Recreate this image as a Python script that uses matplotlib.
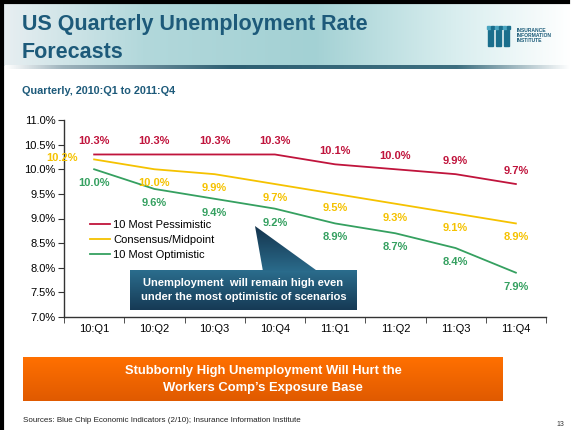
import numpy as np
import matplotlib
matplotlib.use("Agg")
import matplotlib.pyplot as plt
from matplotlib.colors import LinearSegmentedColormap
from matplotlib.patches import Rectangle, Polygon

plt.rcParams['font.family'] = ['Liberation Sans', 'DejaVu Sans']

# ---- data ----
quarters = ["10:Q1", "10:Q2", "10:Q3", "10:Q4", "11:Q1", "11:Q2", "11:Q3", "11:Q4"]
pessimistic = [10.3, 10.3, 10.3, 10.3, 10.1, 10.0, 9.9, 9.7]
consensus = [10.2, 10.0, 9.9, 9.7, 9.5, 9.3, 9.1, 8.9]
optimistic = [10.0, 9.6, 9.4, 9.2, 8.9, 8.7, 8.4, 7.9]
series_names = ["10 Most Pessimistic", "Consensus/Midpoint", "10 Most Optimistic"]
y_ticks = [7.0, 7.5, 8.0, 8.5, 9.0, 9.5, 10.0, 10.5, 11.0]

RED = "#c0143c"
GOLD = "#f5c200"
GREEN = "#35a060"
TITLE = "#1d5a7a"

W, H = 571, 430
fig = plt.figure(figsize=(W / 100, H / 100), dpi=100)
grad = np.linspace(0, 1, 256).reshape(1, -1)
vgrad = np.linspace(0, 1, 64).reshape(-1, 1)


def pixel_axes(z):
    a = fig.add_axes([0, 0, 1, 1])
    a.axis("off")
    a.set_zorder(z)
    a.patch.set_alpha(0)
    return a


def fix_limits(a):
    a.set_xlim(0, W)
    a.set_ylim(H, 0)


# ---- slide decoration, in pixel coordinates ----
bg = pixel_axes(0)

hdr_cmap = LinearSegmentedColormap.from_list(
    "hdr", [(0.0, "#e9eff2"), (0.25, "#b2d8db"), (0.55, "#a3d1d4"),
            (0.8, "#d9eeef"), (1.0, "#ffffff")])
bg.imshow(grad, cmap=hdr_cmap, aspect="auto", extent=[0, W, 66, 0], zorder=0)

# shadow rule under the header
shadow_cmap = LinearSegmentedColormap.from_list(
    "sh", [(0.0, "#ffffff"), (0.1, "#9fb4bd"), (0.4, "#2d5f72"),
           (0.8, "#3d6f80"), (1.0, "#ffffff")])
bg.imshow(grad, cmap=shadow_cmap, aspect="auto", extent=[5, W, 69, 65], zorder=1)

# frame edges
bg.plot([1.5, 1.5], [0, H], color="black", lw=3, zorder=5)
bg.plot([0, 568], [1.5, 1.5], color="black", lw=3, zorder=5)

bg.text(22, 30, "US Quarterly Unemployment Rate", fontsize=15.5, fontweight="bold",
        color=TITLE, va="baseline", ha="left")
bg.text(22, 58, "Forecasts", fontsize=15.5, fontweight="bold",
        color=TITLE, va="baseline", ha="left")
bg.text(22, 91, "Quarterly, 2010:Q1 to 2011:Q4", fontsize=7.8, fontweight="bold",
        color=TITLE, va="center", ha="left")

# logo
for x0 in (488, 496, 504):
    bg.add_patch(Rectangle((x0, 30), 5, 16, color="#1a6e8c", zorder=3))
    bg.add_patch(Rectangle((x0 - 1, 26), 3, 3, color="#4aa5c0", zorder=3))
    bg.add_patch(Rectangle((x0 + 3, 26), 3, 3, color="#1a6e8c", zorder=3))
for i, word in enumerate(["INSURANCE", "INFORMATION", "INSTITUTE"]):
    bg.text(517, 30 + i * 5.5, word, fontsize=3.6, fontweight="bold",
            color="#1a5a78", va="center", ha="left")

# orange banner
org_cmap = LinearSegmentedColormap.from_list("org", ["#ff7000", "#e05a00"])
bg.imshow(vgrad, cmap=org_cmap, aspect="auto", extent=[23, 503, 401, 357], zorder=2)
bg.text(263, 371, "Stubbornly High Unemployment Will Hurt the", fontsize=9.4,
        fontweight="bold", color="white", ha="center", va="center", zorder=3)
bg.text(263, 388, "Workers Comp\u2019s Exposure Base", fontsize=9.4,
        fontweight="bold", color="white", ha="center", va="center", zorder=3)

bg.text(23, 421, "Sources: Blue Chip Economic Indicators (2/10); Insurance Information Institute",
        fontsize=5.8, color="#222222", ha="left", va="center")
bg.text(556, 424, "13", fontsize=5, color="#333333", ha="left", va="center")
fix_limits(bg)

# ---- chart ----
ax = fig.add_axes([64 / W, 1 - 317 / H, (546 - 64) / W, (317 - 120) / H])
ax.set_zorder(1)
ax.patch.set_alpha(0)
x = np.arange(len(quarters))
ax.plot(x, pessimistic, color=RED, lw=1.3, label=series_names[0], zorder=3)
ax.plot(x, consensus, color=GOLD, lw=1.3, label=series_names[1], zorder=3)
ax.plot(x, optimistic, color=GREEN, lw=1.3, label=series_names[2], zorder=3)

ax.set_xlim(-0.5, len(quarters) - 0.5)
ax.set_ylim(7.0, 11.0)
ax.set_yticks(y_ticks)
ax.set_yticklabels([f"{v:.1f}%" for v in y_ticks], fontsize=8)
ax.set_xticks(x)
ax.set_xticklabels(quarters, fontsize=8)
ax.tick_params(axis="x", length=0, pad=5)
ax.set_xticks(np.arange(-0.5, len(quarters)), minor=True)
ax.tick_params(axis="x", which="minor", length=4, direction="out", color="#333333")
ax.tick_params(axis="y", length=4, direction="out", color="#333333", pad=2)
for s in ("top", "right"):
    ax.spines[s].set_visible(False)
for s in ("left", "bottom"):
    ax.spines[s].set_color("#333333")
    ax.spines[s].set_linewidth(1)

lab_kw = dict(fontsize=8, fontweight="bold", ha="center", va="center", zorder=4)
for i, v in enumerate(pessimistic):
    ax.annotate(f"{v:.1f}%", (i, v), xytext=(0, 13), textcoords="offset pixels",
                color=RED, **lab_kw)
for i, v in enumerate(consensus):
    off = (-32, 1) if i == 0 else (0, -14)
    ax.annotate(f"{v:.1f}%", (i, v), xytext=off, textcoords="offset pixels",
                color=GOLD, **lab_kw)
for i, v in enumerate(optimistic):
    ax.annotate(f"{v:.1f}%", (i, v), xytext=(0, -14), textcoords="offset pixels",
                color=GREEN, **lab_kw)

ax.legend(loc="upper left", bbox_to_anchor=(0.045, 0.515), frameon=False,
          fontsize=8, handlelength=1.8, handletextpad=0.25, labelspacing=0.45,
          borderaxespad=0)

# ---- callout box with pointer, drawn above the chart ----
top = pixel_axes(2)
box_cmap = LinearSegmentedColormap.from_list("box", ["#2b6d8d", "#163a55"])
top.imshow(vgrad, cmap=box_cmap, aspect="auto", extent=[130, 357, 310, 270], zorder=1)
tri_cmap = LinearSegmentedColormap.from_list("tri", ["#14344d", "#2a6a8a"])
tri_img = top.imshow(vgrad, cmap=tri_cmap, aspect="auto",
                     extent=[255, 318, 271, 226], zorder=2)
tri = Polygon([[255, 226], [263, 271.5], [318, 271.5]], closed=True,
              facecolor="none", edgecolor="none", transform=top.transData)
top.add_patch(tri)
tri_img.set_clip_path(tri)
top.text(243.5, 283, "Unemployment  will remain high even", fontsize=8,
         fontweight="bold", color="white", ha="center", va="center", zorder=3)
top.text(243.5, 297, "under the most optimistic of scenarios", fontsize=8,
         fontweight="bold", color="white", ha="center", va="center", zorder=3)
fix_limits(top)

fig.savefig("out.png", dpi=100)
